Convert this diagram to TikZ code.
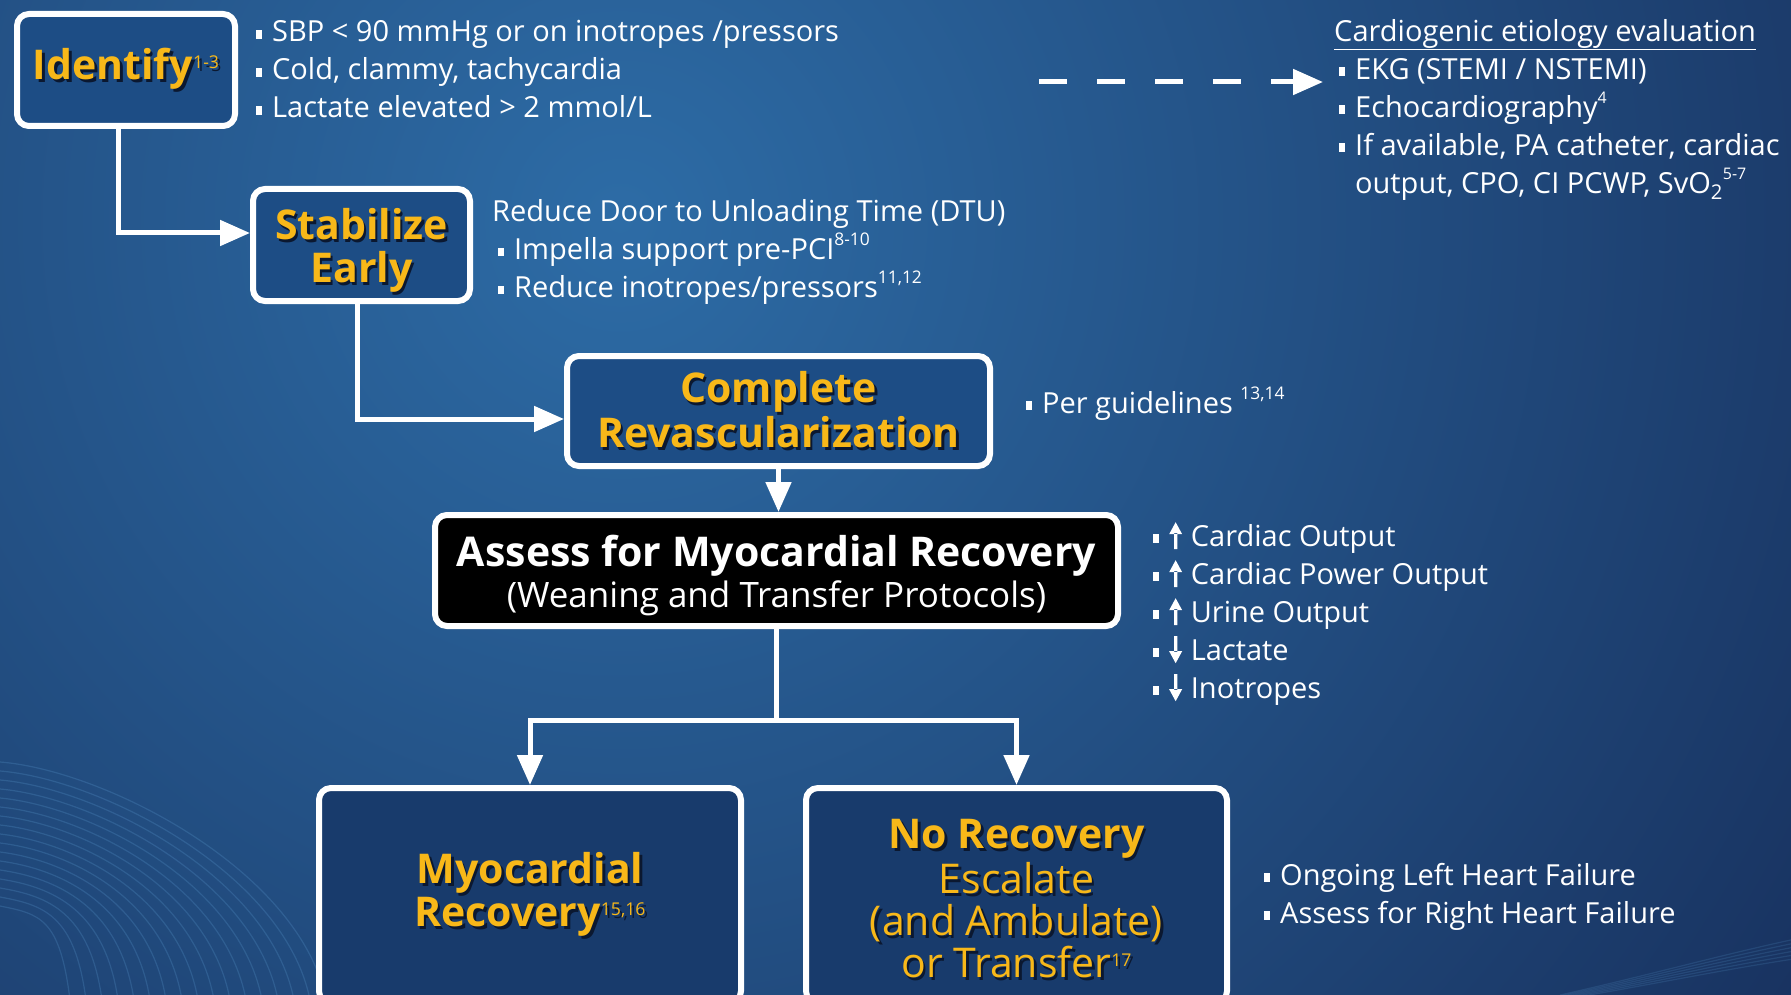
\documentclass[tikz,border=0pt]{standalone}
\usepackage{fontspec}
\setmainfont{Open Sans}
\usepackage{graphicx}
\usetikzlibrary{positioning, arrows.meta}

\definecolor{bginner}{HTML}{2D6CA6}
\definecolor{bgouter}{HTML}{172F5C}
\definecolor{boxfill}{HTML}{1D4D85}
\definecolor{lowfill}{HTML}{183B6C}
\definecolor{titleyellow}{HTML}{F8B819}
\definecolor{shadowc}{HTML}{0B1830}
\definecolor{wavec}{HTML}{5A9AD0}

% small square bullet, shadowed title text, superscripts, trend arrows
\newcommand{\bul}{\rule[0.12em]{0.2em}{0.3em}\hspace{0.35em}}
\newcommand{\shd}[1]{\makebox[0pt][l]{\kern2.5pt\raisebox{-3pt}{\textcolor{shadowc}{#1}}}#1}
\newcommand{\sups}[2][0.45]{\raisebox{0.9ex}[0pt][0pt]{\mdseries\scalebox{#1}{#2}}}
\newcommand{\tsups}[1]{\raisebox{0.5ex}[0pt][0pt]{\mdseries\scalebox{0.43}{#1}}}
\newcommand{\trup}{\tikz[baseline=0pt, x=1pt, y=1pt]{\fill[white] (-1.6,-3) rectangle (1.6,13)
  (-6.5,12) -- (6.5,12) -- (0,24) -- cycle;}\hspace{0.3em}}
\newcommand{\trdown}{\tikz[baseline=0pt, x=1pt, y=1pt]{\fill[white] (-1.6,24) rectangle (1.6,8)
  (-6.5,9) -- (6.5,9) -- (0,-3) -- cycle;}\hspace{0.3em}}

\begin{document}
\begin{tikzpicture}[x=1pt, y=-1pt,
  flow box/.style={draw=white, line width=6pt, rounded corners=12pt, fill=boxfill,
    inner sep=0pt, align=center, text=titleyellow,
    font=\bfseries\fontsize{41}{43}\selectfont},
  note text/.style={text=white, align=left, inner sep=0pt,
    font=\fontsize{29}{38}\selectfont},
  link/.style={draw=white, line width=5pt},
  arrow/.style={link, -{Triangle[length=30pt, width=25pt, fill=white, color=white]}}]

% background
\useasboundingbox (0,0) rectangle (1791,995);
\begin{scope}
  \clip (0,0) rectangle (1791,995);
  \shade[inner color=bginner, outer color=bgouter] (620,220) circle (1500pt);
  % faint waves
  \foreach \t in {0,...,16} {
    \draw[wavec, draw opacity=0.25, line width=1.2pt]
      (0,{762+9*(16-\t)}) .. controls ({40+4*\t},{770+9*(16-\t)}) and ({60+15*\t},{870+3*(16-\t)}) .. ({70+16*\t},1000);
  }
  \foreach \t in {0,...,5} {
    \draw[wavec, draw opacity=0.18, line width=1.2pt]
      (1560,{1000-\t}) .. controls (1650,{985-2*\t}) and (1720,{970-3*\t}) .. (1800,{958-4*\t});
  }
\end{scope}

% flow boxes
\node[flow box, minimum width=218pt, minimum height=112pt] (identify) at (126,70)
  {\shd{Identify\tsups{1-3}}};
\node[flow box, minimum width=217pt, minimum height=112pt, text depth=0pt] (stabilize) at (361.5,245)
  {\shd{Stabilize}\\\shd{Early}};
\node[flow box, minimum width=423pt, minimum height=110pt] (revasc) at (778.5,411)
  {\shd{Complete}\\\shd{Revascularization}};
\node[flow box, fill=black, text=white, minimum width=683pt, minimum height=111pt,
  font=\bfseries\fontsize{41}{41}\selectfont] (assess) at (776.5,570.5)
  {\rule{0pt}{42pt}Assess for Myocardial Recovery\\{\mdseries\fontsize{35}{38}\selectfont (Weaning and Transfer Protocols)}};
\node[flow box, fill=lowfill, minimum width=422pt, minimum height=215pt,
  font=\bfseries\fontsize{41}{42}\selectfont] (recov) at (530,895.5)
  {\shd{Myocardial}\\\shd{Recovery\tsups{15,16}}};
\node[flow box, fill=lowfill, minimum width=421pt, minimum height=215pt,
  font=\bfseries\fontsize{41}{42}\selectfont] (norecov) at (1016.5,895.5)
  {\rule{0pt}{38pt}\shd{No Recovery}\\{\mdseries\shd{Escalate}}\\{\mdseries\shd{(and Ambulate)}}\\{\mdseries\shd{or Transfer\tsups{17}}}};

% notes
\node[note text, right=18pt of identify.north east, anchor=north west, yshift=-9.5pt] (identify notes)
  {\bul SBP < 90 mmHg or on inotropes /pressors\\
   \bul Cold, clammy, tachycardia\\
   \bul Lactate elevated > 2 mmol/L};
\node[note text, anchor=north west] (etiology) at (1334,19)
  {\underline{Cardiogenic etiology evaluation}\\
   \hspace{5pt}\bul EKG (STEMI / NSTEMI)\\
   \hspace{5pt}\bul Echocardiography\sups[0.55]{4}\\
   \hspace{5pt}\bul If available, PA catheter, cardiac\\
   \hspace{5pt}\hphantom{\bul}output, CPO, CI PCWP, SvO\textsubscript{2}\sups[0.55]{5-7}};
\node[note text, right=19pt of stabilize.north east, anchor=north west, yshift=-13.5pt] (stabilize notes)
  {Reduce Door to Unloading Time (DTU)\\
   \hspace{6pt}\bul Impella support pre-PCI\sups[0.6]{8-10}\\
   \hspace{6pt}\bul Reduce inotropes/pressors\sups[0.6]{11,12}};
\node[note text, right=33pt of revasc.east, anchor=west, yshift=5.5pt] (revasc notes)
  {\bul Per guidelines \sups[0.6]{13,14}};
\node[note text, right=32pt of assess.north east, anchor=north west, yshift=-10pt] (assess notes)
  {\bul\trup Cardiac Output\\
   \bul\trup Cardiac Power Output\\
   \bul\trup Urine Output\\
   \bul\trdown Lactate\\
   \bul\trdown Inotropes};
\node[note text, anchor=north west] (failure notes) at (1264,863)
  {\bul Ongoing Left Heart Failure\\
   \bul Assess for Right Heart Failure};

% connectors
\draw[arrow] ([xshift=-8pt]identify.south) |- ([yshift=12pt]stabilize.west);
\draw[arrow] ([xshift=-4pt]stabilize.south) |- ([yshift=-8pt]revasc.west);
\draw[arrow] (revasc.south) -- (revasc.south |- assess.north);
\draw[link] (assess.south) -- ++(0,91) coordinate (split);
\draw[arrow] (split) -| (recov.north);
\draw[arrow] (split) -| (norecov.north);
\coordinate (dash start) at (1039,82);
\coordinate (dash end) at (1323,82);
\draw[arrow, dash pattern=on 28pt off 30pt] (dash start) -- (dash end);

\end{tikzpicture}
\end{document}
